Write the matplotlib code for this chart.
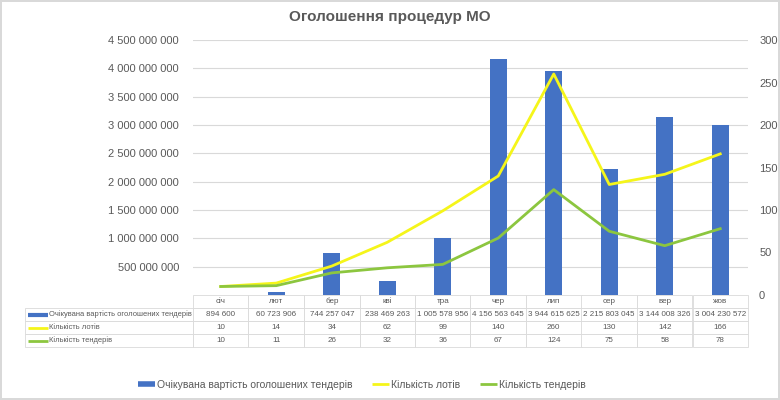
import matplotlib.pyplot as plt
from matplotlib.lines import Line2D
from matplotlib.ticker import FuncFormatter

plt.rcParams['font.family'] = ['Liberation Sans', 'DejaVu Sans']

# дані
months = ['січ', 'лют', 'бер', 'кві', 'тра', 'чер', 'лип', 'сер', 'вер', 'жов']
expected_value = [894600, 60723906, 744257047, 238469263, 1005578956,
                  4156563645, 3944615625, 2215803045, 3144008326, 3004230572]
lots = [10, 14, 34, 62, 99, 140, 260, 130, 142, 166]
tenders = [10, 11, 26, 32, 36, 67, 124, 75, 58, 78]
series_names = ['Очікувана вартість оголошених тендерів', 'Кількість лотів', 'Кількість тендерів']

BLUE = '#4472C4'
YELLOW = '#F5F51A'
GREEN = '#8CC63F'
GREY = '#595959'


def fmt(v):
    return f'{v:,}'.replace(',', ' ')


fig = plt.figure(figsize=(7.8, 4), dpi=100)
fig.patch.set_edgecolor('#d9d9d9')
fig.patch.set_linewidth(1.5)

W, H = 780, 400
left, right, top, bottom = 193, 748, 40, 295
ax = fig.add_axes([left / W, 1 - bottom / H, (right - left) / W, (bottom - top) / H])
ax2 = ax.twinx()

x = list(range(len(months)))
ax.bar(x, expected_value, width=0.3, color=BLUE, zorder=2)
ax.set_xlim(-0.5, len(months) - 0.5)
ax.set_ylim(0, 4.5e9)
ax.set_yticks([i * 5e8 for i in range(1, 10)])
ax.yaxis.set_major_formatter(FuncFormatter(lambda v, p: fmt(int(v))))
ax.grid(axis='y', color='#d9d9d9', lw=0.8, zorder=0)
ax.set_axisbelow(True)
ax.set_xticks([])
ax.tick_params(axis='y', length=0, labelsize=8, labelcolor=GREY, pad=10)

ax2.set_ylim(0, 300)
ax2.set_yticks(range(0, 301, 50))
ax2.tick_params(axis='y', length=0, labelsize=8, labelcolor=GREY, pad=8)
ax2.plot(x, lots, color=YELLOW, lw=2, zorder=3, solid_joinstyle='round')
ax2.plot(x, tenders, color=GREEN, lw=2, zorder=3, solid_joinstyle='round')

for a in (ax, ax2):
    for s in a.spines.values():
        s.set_visible(False)

# таблиця даних
cell_text = [[series_names[0]] + [fmt(v) for v in expected_value],
             [series_names[1]] + [str(v) for v in lots],
             [series_names[2]] + [str(v) for v in tenders]]
label_w = (left - 25) / (right - left)
col_w = [label_w] + [1 / len(months)] * len(months)
tbl_h = (347 - bottom) / (bottom - top)
tbl = ax.table(cellText=cell_text, colLabels=[''] + months, colWidths=col_w,
               cellLoc='center', bbox=[-label_w, -tbl_h, 1 + label_w, tbl_h])
tbl.auto_set_font_size(False)
for (r, c), cell in tbl.get_celld().items():
    cell.set_edgecolor('#d9d9d9')
    cell.set_linewidth(0.6)
    cell.get_text().set_fontsize(5.8)
    cell.get_text().set_color(GREY)
    cell.PAD = 0.02
    if r == 0 and c == 0:
        cell.visible_edges = ''
    if c == 0 and r > 0:
        cell._loc = 'left'
        cell.PAD = 0.14
        cell.get_text().set_ha('left')
        cell.get_text().set_fontsize(5.4)

key_colors = [BLUE, YELLOW, GREEN]
key_lw = [3, 2, 2]
row_h = tbl_h / 4
for i, col in enumerate(key_colors):
    yk = -tbl_h + row_h * (2.5 - i)
    ax.plot([-label_w + 3 / 555, -label_w + 23 / 555], [yk, yk], transform=ax.transAxes,
            color=col, lw=key_lw[i], clip_on=False, solid_capstyle='butt')

fig.text(0.5, 1 - 17 / H, 'Оголошення процедур МО', ha='center', va='center',
         fontsize=11, fontweight='bold', color=GREY)

handles = [Line2D([], [], color=c, lw=w, solid_capstyle='butt') for c, w in zip(key_colors, [4, 2, 2])]
fig.legend(handles, series_names, loc='center', bbox_to_anchor=(362 / W, 1 - 385 / H), ncol=3,
           frameon=False, fontsize=7.5, labelcolor=GREY, handlelength=1.6, handletextpad=0.2,
           columnspacing=1.9)

fig.savefig('out.png', dpi=100)
